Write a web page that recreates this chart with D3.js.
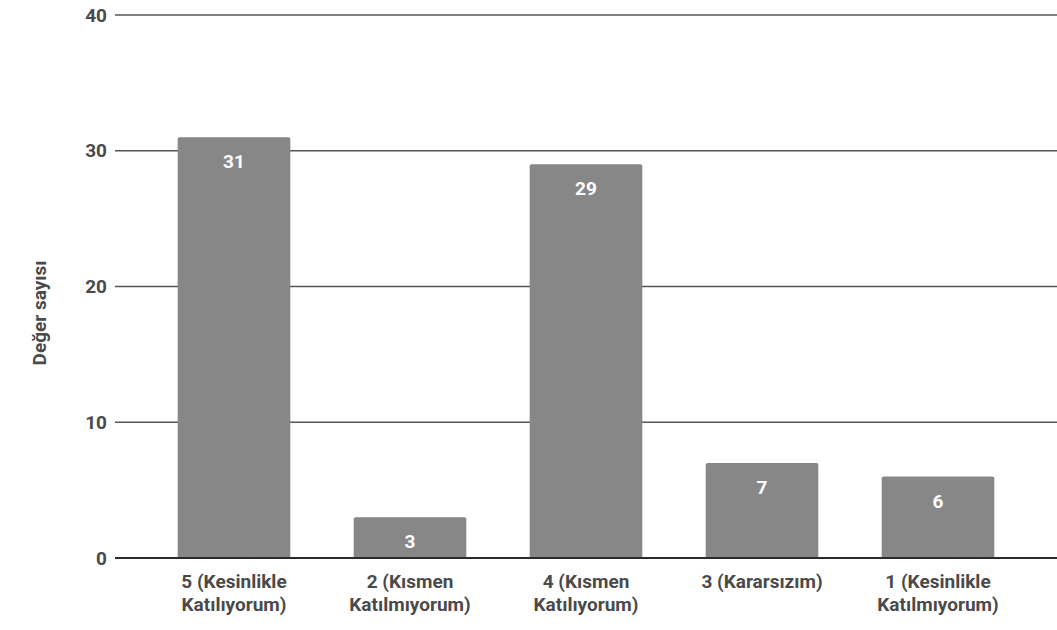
<!DOCTYPE html>
<html><head><meta charset="utf-8">
<script src="https://cdn.jsdelivr.net/npm/d3@7"></script>
<style>body{margin:0;background:#fff}svg{display:block}text{font-family:Roboto,"Noto Sans",sans-serif;font-weight:bold}</style>
</head><body><svg id="c" width="1057" height="630"></svg>
<script>
const categories = [["5 (Kesinlikle","Katılıyorum)"],["2 (Kısmen","Katılmıyorum)"],["4 (Kısmen","Katılıyorum)"],["3 (Kararsızım)"],["1 (Kesinlikle","Katılmıyorum)"]];
const values = [31, 3, 29, 7, 6];
const yTicks = [0, 10, 20, 30, 40];
const yTitle = "Değer sayısı";

const svg = d3.select("#c");
const x = d3.scaleBand().domain(d3.range(values.length)).range([146, 1026]).paddingInner(0.36).paddingOuter(0.18);
const y = d3.scaleLinear().domain([0, 40]).range([558, 15]);

const grid = svg.append("g");
grid.selectAll("line").data(yTicks.filter(d=>d>0)).join("line")
  .attr("x1", 115).attr("x2", 1057).attr("y1", d=>y(d)).attr("y2", d=>y(d))
  .attr("stroke", "#555").attr("stroke-width", 1.5);
svg.append("g").selectAll("text").data(yTicks).join("text")
  .attr("x", 107).attr("y", d=>y(d)).attr("dy", "0.35em").attr("text-anchor", "end")
  .attr("font-size", 19).attr("fill", "#4a4a4a").text(d=>d);

svg.append("g").selectAll("path").data(values).join("path")
  .attr("d", (d,i)=>{
    const x0 = x(i), w = x.bandwidth(), t = y(d), b = y(0), r = 2;
    return `M${x0},${b}V${t+r}Q${x0},${t} ${x0+r},${t}H${x0+w-r}Q${x0+w},${t} ${x0+w},${t+r}V${b}Z`;
  })
  .attr("fill", "#878787");

svg.append("line").attr("x1", 115).attr("x2", 1057).attr("y1", y(0)).attr("y2", y(0))
  .attr("stroke", "#2a2a2a").attr("stroke-width", 2);

svg.append("g").selectAll("text").data(values).join("text")
  .attr("x", (d,i)=>x(i)+x.bandwidth()/2).attr("y", d=>y(d)+31)
  .attr("text-anchor", "middle").attr("font-size", 19).attr("fill", "#fff").text(d=>d);

const xl = svg.append("g").selectAll("text").data(categories).join("text")
  .attr("text-anchor", "middle").attr("font-size", 19).attr("fill", "#4a4a4a");
xl.each(function(lines, i){
  d3.select(this).selectAll("tspan").data(lines).join("tspan")
    .attr("x", x(i)+x.bandwidth()/2).attr("y", (d,j)=>588+j*23).text(d=>d);
});

svg.append("text").attr("transform", "translate(46,313) rotate(-90)")
  .attr("text-anchor", "middle").attr("font-size", 19).attr("fill", "#4a4a4a").text(yTitle);
</script></body></html>
